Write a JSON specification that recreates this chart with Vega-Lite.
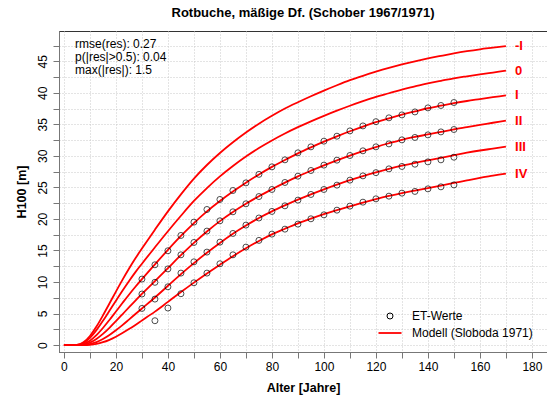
{
  "$schema": "https://vega.github.io/schema/vega-lite/v6.json",
  "width": 488,
  "height": 321,
  "autosize": {"type": "none"},
  "padding": {"left": 59, "top": 31, "right": 0, "bottom": 47},
  "background": "white",
  "title": {
    "text": "Rotbuche, mäßige Df. (Schober 1967/1971)",
    "font": "Liberation Sans",
    "fontSize": 13,
    "fontWeight": "bold",
    "color": "#000000",
    "anchor": "middle",
    "offset": 11
  },
  "config": {
    "view": {"stroke": "#333333", "strokeWidth": 1},
    "axis": {
      "labelFont": "Liberation Sans",
      "labelFontSize": 12,
      "labelColor": "#000000",
      "labelOverlap": false,
      "titleFont": "Liberation Sans",
      "titleFontSize": 12.5,
      "titleFontWeight": "bold",
      "titleColor": "#000000",
      "grid": true,
      "gridColor": "#c8c8c8",
      "gridDash": [1, 2],
      "gridWidth": 1,
      "tickColor": "#777777",
      "tickSize": 6,
      "domainColor": "#777777"
    }
  },
  "encoding": {
    "x": {
      "field": "a",
      "type": "quantitative",
      "scale": {"domain": [-1.9, 185.8], "nice": false, "zero": false},
      "axis": {
        "title": "Alter [Jahre]",
        "values": [0, 10, 20, 30, 40, 50, 60, 70, 80, 90, 100, 110, 120, 130, 140, 150, 160, 170, 180],
        "labelExpr": "datum.value % 20 === 0 ? format(datum.value, 'd') : ''",
        "labelOverlap": false,
        "labelPadding": 3,
        "titlePadding": 9
      }
    },
    "y": {
      "field": "h",
      "type": "quantitative",
      "scale": {"domain": [-1.1, 49.8], "nice": false, "zero": false},
      "axis": {
        "title": "H100 [m]",
        "values": [0, 2.5, 5, 7.5, 10, 12.5, 15, 17.5, 20, 22.5, 25, 27.5, 30, 32.5, 35, 37.5, 40, 42.5, 45, 47.5],
        "labelExpr": "datum.value % 5 === 0 ? format(datum.value, 'd') : ''",
        "labelOverlap": false,
        "labelAngle": -90,
        "labelAlign": "center",
        "labelBaseline": "bottom",
        "labelPadding": 4,
        "titlePadding": 8
      }
    }
  },
  "layer": [
    {
      "data": {
        "values": [
          {"a": 0, "mI": 0, "m0": 0, "I": 0, "II": 0, "III": 0, "IV": 0},
          {"a": 2.5, "mI": 0, "m0": 0, "I": 0, "II": 0, "III": 0, "IV": 0},
          {"a": 5, "mI": 0.04, "m0": 0.03, "I": 0.01, "II": 0, "III": 0, "IV": 0},
          {"a": 7.5, "mI": 0.44, "m0": 0.34, "I": 0.18, "II": 0.085, "III": 0.025, "IV": 0.005},
          {"a": 10, "mI": 1.44, "m0": 1.15, "I": 0.7, "II": 0.39, "III": 0.155, "IV": 0.05},
          {"a": 12.5, "mI": 2.93, "m0": 2.37, "I": 1.58, "II": 0.965, "III": 0.46, "IV": 0.19},
          {"a": 15, "mI": 4.7, "m0": 3.84, "I": 2.71, "II": 1.77, "III": 0.95, "IV": 0.45},
          {"a": 17.5, "mI": 6.59, "m0": 5.44, "I": 3.98, "II": 2.73, "III": 1.59, "IV": 0.835},
          {"a": 20, "mI": 8.48, "m0": 7.04, "I": 5.32, "II": 3.79, "III": 2.35, "IV": 1.32},
          {"a": 22.5, "mI": 10.33, "m0": 8.62, "I": 6.66, "II": 4.88, "III": 3.17, "IV": 1.9},
          {"a": 25, "mI": 12.09, "m0": 10.13, "I": 7.98, "II": 5.98, "III": 4.04, "IV": 2.53},
          {"a": 27.5, "mI": 13.75, "m0": 11.56, "I": 9.24, "II": 7.06, "III": 4.92, "IV": 3.2},
          {"a": 30, "mI": 15.3, "m0": 12.9, "I": 10.45, "II": 8.1, "III": 5.8, "IV": 3.9},
          {"a": 35, "mI": 18.3, "m0": 15.5, "I": 12.8, "II": 10.15, "III": 7.55, "IV": 5.3},
          {"a": 40, "mI": 21.2, "m0": 18.05, "I": 15.1, "II": 12.2, "III": 9.4, "IV": 6.85},
          {"a": 45, "mI": 23.9, "m0": 20.5, "I": 17.3, "II": 14.25, "III": 11.25, "IV": 8.4},
          {"a": 50, "mI": 26.4, "m0": 22.85, "I": 19.35, "II": 16.2, "III": 13.0, "IV": 9.9},
          {"a": 55, "mI": 28.55, "m0": 24.9, "I": 21.2, "II": 18.0, "III": 14.65, "IV": 11.35},
          {"a": 60, "mI": 30.45, "m0": 26.75, "I": 22.85, "II": 19.65, "III": 16.2, "IV": 12.75},
          {"a": 65, "mI": 32.15, "m0": 28.4, "I": 24.35, "II": 21.1, "III": 17.65, "IV": 14.1},
          {"a": 70, "mI": 33.7, "m0": 29.9, "I": 25.75, "II": 22.4, "III": 18.95, "IV": 15.35},
          {"a": 75, "mI": 35.1, "m0": 31.25, "I": 27.05, "II": 23.6, "III": 20.15, "IV": 16.5},
          {"a": 80, "mI": 36.35, "m0": 32.45, "I": 28.25, "II": 24.7, "III": 21.2, "IV": 17.55},
          {"a": 85, "mI": 37.5, "m0": 33.55, "I": 29.35, "II": 25.75, "III": 22.15, "IV": 18.45},
          {"a": 90, "mI": 38.5, "m0": 34.55, "I": 30.4, "II": 26.75, "III": 23.05, "IV": 19.3},
          {"a": 95, "mI": 39.45, "m0": 35.48, "I": 31.35, "II": 27.65, "III": 23.9, "IV": 20.05},
          {"a": 100, "mI": 40.35, "m0": 36.35, "I": 32.25, "II": 28.5, "III": 24.7, "IV": 20.75},
          {"a": 105, "mI": 41.2, "m0": 37.17, "I": 33.1, "II": 29.3, "III": 25.45, "IV": 21.4},
          {"a": 110, "mI": 42.0, "m0": 37.95, "I": 33.9, "II": 30.05, "III": 26.15, "IV": 22.0},
          {"a": 115, "mI": 42.7, "m0": 38.67, "I": 34.65, "II": 30.75, "III": 26.8, "IV": 22.6},
          {"a": 120, "mI": 43.35, "m0": 39.35, "I": 35.35, "II": 31.4, "III": 27.4, "IV": 23.15},
          {"a": 125, "mI": 43.95, "m0": 39.93, "I": 35.95, "II": 32.0, "III": 27.95, "IV": 23.65},
          {"a": 130, "mI": 44.5, "m0": 40.52, "I": 36.55, "II": 32.55, "III": 28.45, "IV": 24.1},
          {"a": 135, "mI": 45.0, "m0": 41.01, "I": 37.05, "II": 33.0, "III": 28.9, "IV": 24.5},
          {"a": 140, "mI": 45.45, "m0": 41.5, "I": 37.55, "II": 33.4, "III": 29.3, "IV": 24.9},
          {"a": 145, "mI": 45.85, "m0": 41.9, "I": 37.95, "II": 33.8, "III": 29.7, "IV": 25.3},
          {"a": 150, "mI": 46.25, "m0": 42.3, "I": 38.35, "II": 34.2, "III": 30.1, "IV": 25.7},
          {"a": 155, "mI": 46.6, "m0": 42.62, "I": 38.7, "II": 34.55, "III": 30.5, "IV": 26.1},
          {"a": 160, "mI": 46.9, "m0": 42.92, "I": 39.0, "II": 34.9, "III": 30.85, "IV": 26.5},
          {"a": 165, "mI": 47.15, "m0": 43.21, "I": 39.3, "II": 35.25, "III": 31.15, "IV": 26.85},
          {"a": 170, "mI": 47.4, "m0": 43.5, "I": 39.6, "II": 35.6, "III": 31.45, "IV": 27.2}
        ]
      },
      "transform": [{"fold": ["mI", "m0", "I", "II", "III", "IV"], "as": ["k", "h"]}],
      "mark": {"type": "line", "strokeWidth": 1.8, "interpolate": "monotone", "clip": true},
      "encoding": {
        "detail": {"field": "k"},
        "color": {
          "datum": "Modell (Sloboda 1971)",
          "scale": {"domain": ["ET-Werte", "Modell (Sloboda 1971)"], "range": ["#000000", "#ff0000"]},
          "legend": {
            "title": null,
            "orient": "none",
            "legendX": 325,
            "legendY": 279,
            "padding": 0,
            "symbolSize": 100,
            "rowPadding": 5,
            "labelOffset": 16,
            "labelFont": "Liberation Sans",
            "labelFontSize": 12,
            "labelColor": "#000000",
            "encode": {
              "symbols": {
                "update": {
                  "shape": {"signal": "datum.value === 'ET-Werte' ? 'circle' : 'stroke'"},
                  "size": {"signal": "datum.value === 'ET-Werte' ? 36 : 529"},
                  "fill": {"value": "transparent"},
                  "stroke": {"signal": "datum.value === 'ET-Werte' ? '#000000' : '#ff0000'"},
                  "strokeWidth": {"signal": "datum.value === 'ET-Werte' ? 1 : 1.8"}
                }
              }
            }
          }
        }
      }
    },
    {
      "data": {
        "values": [
          {"a": 30, "I": 10.46, "II": 8.09, "III": 5.81, "IV": null},
          {"a": 35, "I": 12.73, "II": 9.95, "III": 7.29, "IV": 3.86},
          {"a": 40, "I": 14.95, "II": 12.08, "III": 9.24, "IV": 5.87},
          {"a": 45, "I": 17.38, "II": 14.31, "III": 11.41, "IV": 8.14},
          {"a": 50, "I": 19.49, "II": 16.27, "III": 13.2, "IV": 9.88},
          {"a": 55, "I": 21.5, "II": 18.07, "III": 14.74, "IV": 11.41},
          {"a": 60, "I": 23.09, "II": 19.7, "III": 16.32, "IV": 12.89},
          {"a": 65, "I": 24.51, "II": 21.13, "III": 17.7, "IV": 14.31},
          {"a": 70, "I": 25.72, "II": 22.4, "III": 19.02, "IV": 15.53},
          {"a": 75, "I": 27.07, "II": 23.55, "III": 20.15, "IV": 16.6},
          {"a": 80, "I": 28.26, "II": 24.67, "III": 21.19, "IV": 17.59},
          {"a": 85, "I": 29.37, "II": 25.78, "III": 22.08, "IV": 18.38},
          {"a": 90, "I": 30.48, "II": 26.78, "III": 22.98, "IV": 19.18},
          {"a": 95, "I": 31.43, "II": 27.68, "III": 23.88, "IV": 20.02},
          {"a": 100, "I": 32.33, "II": 28.53, "III": 24.67, "IV": 20.65},
          {"a": 105, "I": 33.12, "II": 29.32, "III": 25.36, "IV": 21.39},
          {"a": 110, "I": 33.96, "II": 30.06, "III": 26.15, "IV": 22.03},
          {"a": 115, "I": 34.75, "II": 30.8, "III": 26.83, "IV": 22.66},
          {"a": 120, "I": 35.42, "II": 31.43, "III": 27.34, "IV": 23.19},
          {"a": 125, "I": 36.03, "II": 31.9, "III": 27.94, "IV": 23.61},
          {"a": 130, "I": 36.5, "II": 32.54, "III": 28.32, "IV": 24.09},
          {"a": 135, "I": 36.97, "II": 32.92, "III": 28.68, "IV": 24.36},
          {"a": 140, "I": 37.61, "II": 33.33, "III": 29.05, "IV": 24.77},
          {"a": 145, "I": 37.99, "II": 33.8, "III": 29.37, "IV": 25.09},
          {"a": 150, "I": 38.46, "II": 34.18, "III": 29.79, "IV": 25.4}
        ]
      },
      "transform": [
        {"fold": ["I", "II", "III", "IV"], "as": ["k", "h"]},
        {"filter": "datum.h != null"}
      ],
      "mark": {"type": "point", "shape": "circle", "filled": false, "size": 36, "strokeWidth": 1},
      "encoding": {
        "color": {"datum": "ET-Werte"}
      }
    },
    {
      "data": {
        "values": [
          {"a": 173.5, "h": 47.4, "lab": "-I"},
          {"a": 173.5, "h": 43.5, "lab": "0"},
          {"a": 173.5, "h": 39.6, "lab": "I"},
          {"a": 173.5, "h": 35.6, "lab": "II"},
          {"a": 173.5, "h": 31.4, "lab": "III"},
          {"a": 173.5, "h": 27.2, "lab": "IV"}
        ]
      },
      "mark": {"type": "text", "align": "left", "baseline": "middle", "font": "Liberation Sans", "fontSize": 13, "fontWeight": "bold", "color": "#ff0000"},
      "encoding": {
        "text": {"field": "lab"}
      }
    },
    {
      "data": {
        "values": [
          {"a": 4.3, "h": 47.7, "t": "rmse(res): 0.27"},
          {"a": 4.3, "h": 45.6, "t": "p(|res|>0.5): 0.04"},
          {"a": 4.3, "h": 43.55, "t": "max(|res|): 1.5"}
        ]
      },
      "mark": {"type": "text", "align": "left", "baseline": "middle", "font": "Liberation Sans", "fontSize": 12, "color": "#000000"},
      "encoding": {
        "text": {"field": "t"}
      }
    }
  ]
}
